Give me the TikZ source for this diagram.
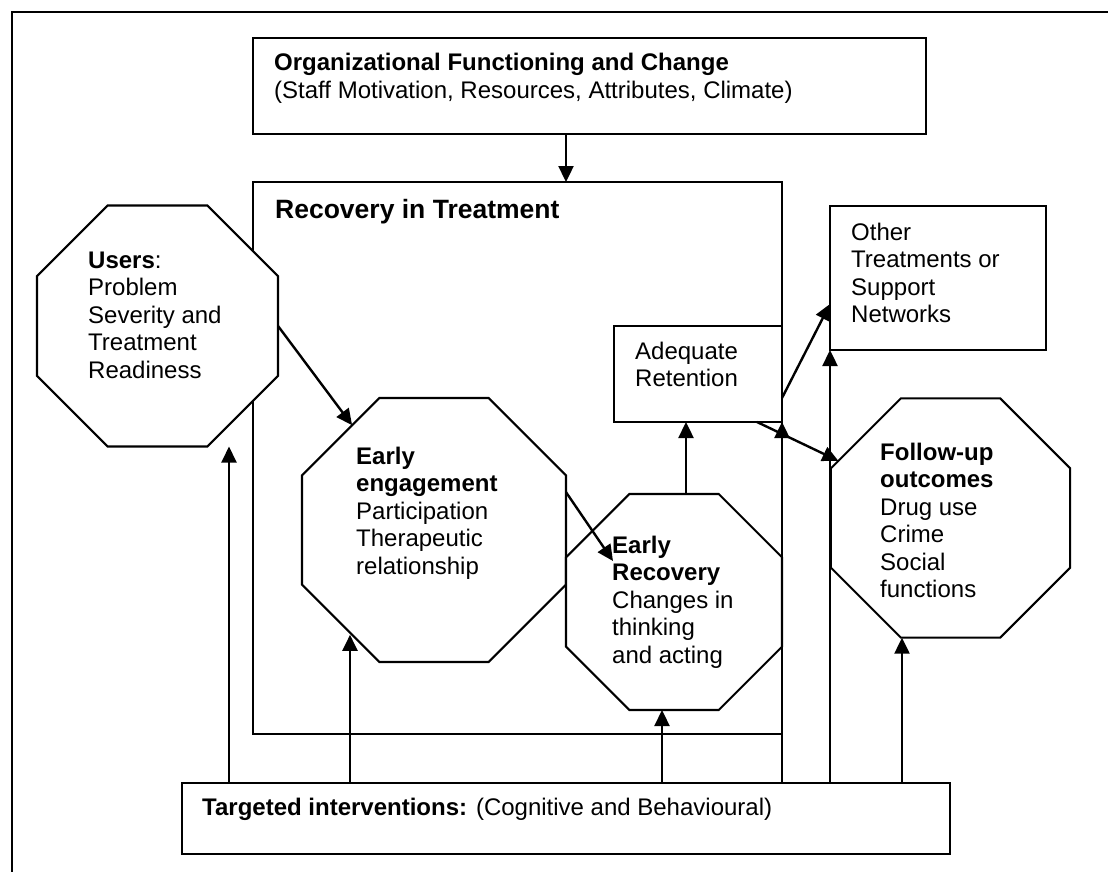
\documentclass[tikz,border=0pt]{standalone}
\usepackage{fontspec}
\setmainfont{Liberation Sans}
\usepackage{tikz}
\usetikzlibrary{shapes.geometric,arrows.meta}

\tikzset{
  box/.style={draw, line width=2.1pt, fill=white, inner sep=0pt, outer sep=0pt,
    anchor=north west},
  oct/.style={draw, line width=2.1pt, fill=white, regular polygon,
    regular polygon sides=8, inner sep=0pt, outer sep=0pt},
  txt/.style={anchor=base west, inner sep=0pt, align=left,
    font=\fontsize{24}{27.5}\selectfont},
  arr/.style={line width=2.4pt, -{Triangle[length=16pt,width=15pt]}},
}

\begin{document}
\begin{tikzpicture}[x=1pt, y=-1pt]
  \useasboundingbox (0, 0) rectangle (1108, 872);
  \draw[line width=2.8pt] (12, 880) -- (12, 12) -- (1116, 12);

  \node[box, minimum width=673, minimum height=96] (org) at (253, 38) {};
  \node[box, minimum width=529, minimum height=552] (rec) at (253, 182) {};
  \node[box, minimum width=168, minimum height=96] (ret) at (614, 326) {};
  \node[box, minimum width=216, minimum height=144] (oth) at (830, 206) {};
  \node[box, minimum width=768, minimum height=71] (targ) at (182, 783) {};

  \node[oct, minimum size=260.9] (users) at (157.5, 326) {};
  \node[oct, minimum size=285.8] (eng) at (434, 530) {};
  \node[oct, minimum size=233.8] (err) at (674, 602) {};
  \node[oct, minimum size=259.1] (fol) at (950.5, 518) {};

  \node[txt] (orgtxt) at (274, 98.5)
    {\textbf{Organizational Functioning and Change}\\
     (Staff Motivation, Resources, Attributes, Climate)};
  \node[txt, font=\fontsize{26.5}{30}\selectfont\bfseries] (rectxt) at (275, 218)
    {Recovery in Treatment};
  \node[txt] (usertxt) at (88, 378)
    {\textbf{Users}:\\Problem\\Severity and\\Treatment\\Readiness};
  \node[txt] (engtxt) at (356, 574)
    {\textbf{Early}\\\textbf{engagement}\\Participation\\Therapeutic\\relationship};
  \node[txt] (errtxt) at (612, 663)
    {\textbf{Early}\\\textbf{Recovery}\\Changes in\\thinking\\and acting};
  \node[txt] (foltxt) at (880, 597.5)
    {\textbf{Follow-up}\\\textbf{outcomes}\\Drug use\\Crime\\Social\\functions};
  \node[txt] (othtxt) at (851, 322.5)
    {Other\\Treatments or\\Support\\Networks};
  \node[txt] (rettxt) at (635, 386.5)
    {Adequate\\Retention};
  \node[txt] (targtxt) at (202, 815)
    {\textbf{Targeted interventions:} (Cognitive and Behavioural)};

  \foreach \name/\xpos in {fu/229, fe/350, fr/662, fa/782, fo/830, ff/902}
    \coordinate (\name) at (\xpos, 783);

  \draw[arr] ([xshift=-23.5pt]org.south) -- ([xshift=-23.5pt]org.south |- rec.north);
  \draw[arr] (users.east) -- (eng.128);
  \draw[arr] (eng.16) -- ([shift={(-61,-41)}]err.center);
  \draw[arr] ([xshift=12pt]err.north) -- ([xshift=12pt]err.north |- ret.south);
  \draw[arr] ([shift={(0,24)}]ret.east) -- ([shift={(0,26)}]oth.west);
  \draw[arr] ([xshift=59pt]ret.south) -- (fol.153);

  \draw[arr] (fu) -- (fu |- users.south);
  \draw[arr] (fe) -- (fe |- eng.232);
  \draw[arr] (fr) -- (fr |- err.south);
  \draw[arr] (fa) -- (ret.south east);
  \draw[arr] (fo) -- (oth.south west);
  \draw[arr] (ff) -- (ff |- fol.south);
\end{tikzpicture}
\end{document}
